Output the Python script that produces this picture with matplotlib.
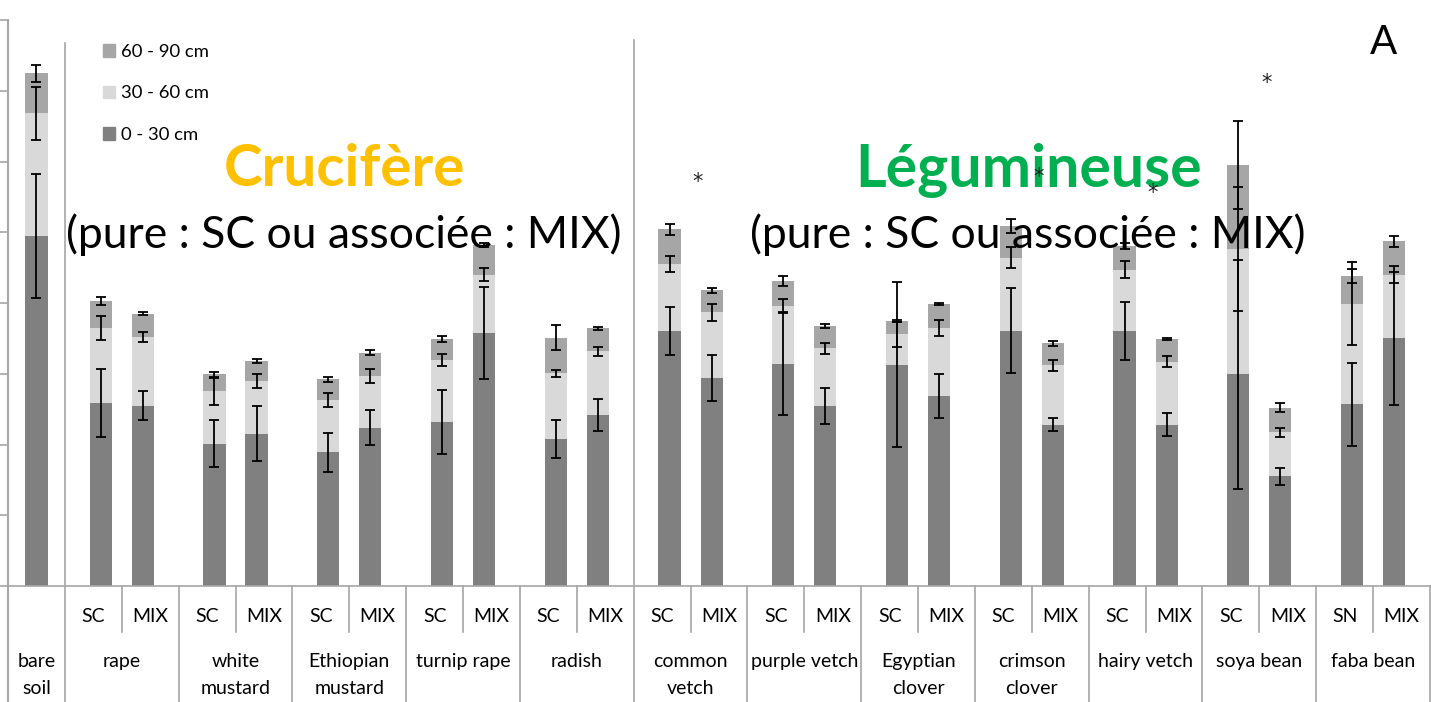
import numpy as np
import matplotlib.pyplot as plt
from matplotlib.patches import Patch

# crops and labels
crops = ["rape", "white\nmustard", "Ethiopian\nmustard", "turnip rape", "radish",
         "common\nvetch", "purple vetch", "Egyptian\nclover", "crimson\nclover",
         "hairy vetch", "soya bean", "faba bean"]
sub_labels = [["SC", "MIX"]] * 11 + [["SN", "MIX"]]

# soil layers per bar: bare soil, then SC / MIX for each crop
d0_30 = [49.5, 25.9, 25.5, 20.1, 21.5, 18.9, 22.4, 23.2, 35.8, 20.8, 24.2,
         36.1, 29.4, 31.4, 25.4, 31.3, 26.8, 36.1, 22.8, 36.1, 22.8, 29.9, 15.5, 25.7, 35.0]
d30_60 = [17.3, 10.6, 9.7, 7.4, 7.5, 7.4, 7.3, 8.7, 8.2, 9.3, 9.0,
          9.4, 9.3, 8.2, 8.2, 4.3, 9.7, 10.3, 8.4, 8.6, 8.9, 17.7, 6.2, 14.2, 9.0]
d60_90 = [5.7, 3.8, 3.3, 2.4, 2.8, 2.9, 3.3, 3.0, 4.2, 5.0, 3.2,
          4.9, 3.1, 3.5, 3.1, 1.8, 3.3, 4.5, 3.1, 3.4, 3.2, 11.9, 3.5, 3.9, 4.7]
err0_30 = [8.8, 4.8, 2.1, 3.3, 3.9, 2.75, 2.5, 4.5, 6.5, 2.65, 2.3,
           3.4, 3.3, 7.3, 2.55, 11.7, 3.1, 6.05, 0.9, 4.1, 1.65, 16.2, 1.2, 5.85, 9.4]
err30_60 = [3.7, 1.7, 0.7, 1.9, 1.0, 1.0, 1.0, 0.85, 0.9, 0.5, 0.65,
            1.1, 1.2, 0.95, 0.8, 1.75, 1.1, 1.5, 0.75, 1.2, 0.8, 8.8, 0.65, 5.9, 1.2]
err60_90 = [1.2, 0.6, 0.25, 0.4, 0.24, 0.33, 0.3, 0.4, 0.3, 1.75, 0.2,
            0.8, 0.35, 0.7, 0.3, 0.15, 0.15, 1.0, 0.35, 0.4, 0.2, 6.2, 0.6, 0.95, 0.8]

# significance marks (crop index, height)
star_crop = [5, 8, 9, 10]
star_y = [57.1, 57.8, 55.6, 71.1]

plt.rcParams['font.family'] = ['Lato', 'DejaVu Sans']

grey = '#a6a6a6'
c0, c1, c2 = '#808080', '#d9d9d9', '#a6a6a6'

# x positions: bare soil in slot 0-1, each crop takes two slots
x = [0.5]
for i in range(len(crops)):
    x += [2 + 2 * i - 0.37, 2 + 2 * i + 0.37]
x = np.array(x)

fig = plt.figure(figsize=(14.31, 7.02), dpi=100)
ax = fig.add_axes([8 / 1431, 116 / 702, 1422 / 1431, 566 / 702])

a = np.array(d0_30)
b = np.array(d30_60)
c = np.array(d60_90)
w = 0.39
ax.bar(x, a, w, color=c0, label='0 - 30 cm')
ax.bar(x, b, w, bottom=a, color=c1, label='30 - 60 cm')
ax.bar(x, c, w, bottom=a + b, color=c2, label='60 - 90 cm')

ekw = dict(fmt='none', ecolor='black', elinewidth=1.3, capsize=3.5, capthick=1.3)
ax.errorbar(x, a, yerr=err0_30, **ekw)
ax.errorbar(x, a + b, yerr=err30_60, **ekw)
ax.errorbar(x, a + b + c, yerr=err60_90, **ekw)

ax.set_xlim(0, 25)
ax.set_ylim(0, 80)
ax.set_yticks(np.arange(0, 81, 10))
ax.set_yticklabels([])
ax.set_xticks([])
ax.tick_params(axis='y', length=8, color=grey, width=1.2)
for s in ['top', 'right']:
    ax.spines[s].set_visible(False)
ax.spines['left'].set_visible(False)
ax.spines['bottom'].set_color(grey)
ax.spines['bottom'].set_linewidth(1.2)

# group separators inside the plot
ax.plot([1, 1], [0, 76.8], color=grey, lw=1.2)
ax.plot([11, 11], [0, 77.2], color=grey, lw=1.2)

# category table under the axis
tr = ax.get_xaxis_transform()
px = 1 / 566
ax.plot([0, 0], [-116 * px, 1], color=grey, lw=1.5, transform=tr, clip_on=False)
for xb in [1] + [3 + 2 * i for i in range(12)]:
    ax.plot([xb, xb], [0, -116 * px], color=grey, lw=1.2, transform=tr, clip_on=False)
for i in range(12):
    xm = 2 + 2 * i
    ax.plot([xm, xm], [0, -46 * px], color=grey, lw=1.2, transform=tr, clip_on=False)
    ax.text(xm - 0.5, -31 * px, sub_labels[i][0], transform=tr, ha='center', va='center', fontsize=14)
    ax.text(xm + 0.5, -31 * px, sub_labels[i][1], transform=tr, ha='center', va='center', fontsize=14)
    ax.text(xm, -67 * px, crops[i], transform=tr, ha='center', va='top', fontsize=14, linespacing=1.75)
ax.text(0.5, -67 * px, "bare\nsoil", transform=tr, ha='center', va='top', fontsize=14, linespacing=1.75)

# legend, top entry first
h = [Patch(color=c2), Patch(color=c1), Patch(color=c0)]
fig.legend(h, ['60 - 90 cm', '30 - 60 cm', '0 - 30 cm'], loc='upper left',
           bbox_to_anchor=(103 / 1431, 1 - 44 / 702), frameon=False, fontsize=13.3,
           handlelength=0.65, handleheight=0.65, handletextpad=0.35,
           labelspacing=1.38, borderpad=0, borderaxespad=0)

fig.text(344 / 1431, 1 - 170 / 702, "Crucifère", color='#ffc000', fontsize=42,
         fontweight='bold', ha='center', va='center')
fig.text(344 / 1431, 1 - 235 / 702, "(pure : SC ou associée : MIX)", fontsize=32,
         ha='center', va='center')
fig.text(1029 / 1431, 1 - 170 / 702, "Légumineuse", color='#00b050', fontsize=42.5,
         fontweight='bold', ha='center', va='center')
fig.text(1028 / 1431, 1 - 235 / 702, "(pure : SC ou associée : MIX)", fontsize=32,
         ha='center', va='center')
fig.text(1383 / 1431, 1 - 42 / 702, "A", fontsize=29, ha='center', va='center')

# asterisks drawn last so they sit on top of the headings
for ci, sy in zip(star_crop, star_y):
    fig.text(2 + 2 * ci + 0.12, sy, '*', transform=ax.transData, ha='center', va='center',
             fontsize=15, color='#222222', family='DejaVu Sans', zorder=10)

fig.savefig('out.png', dpi=100)
